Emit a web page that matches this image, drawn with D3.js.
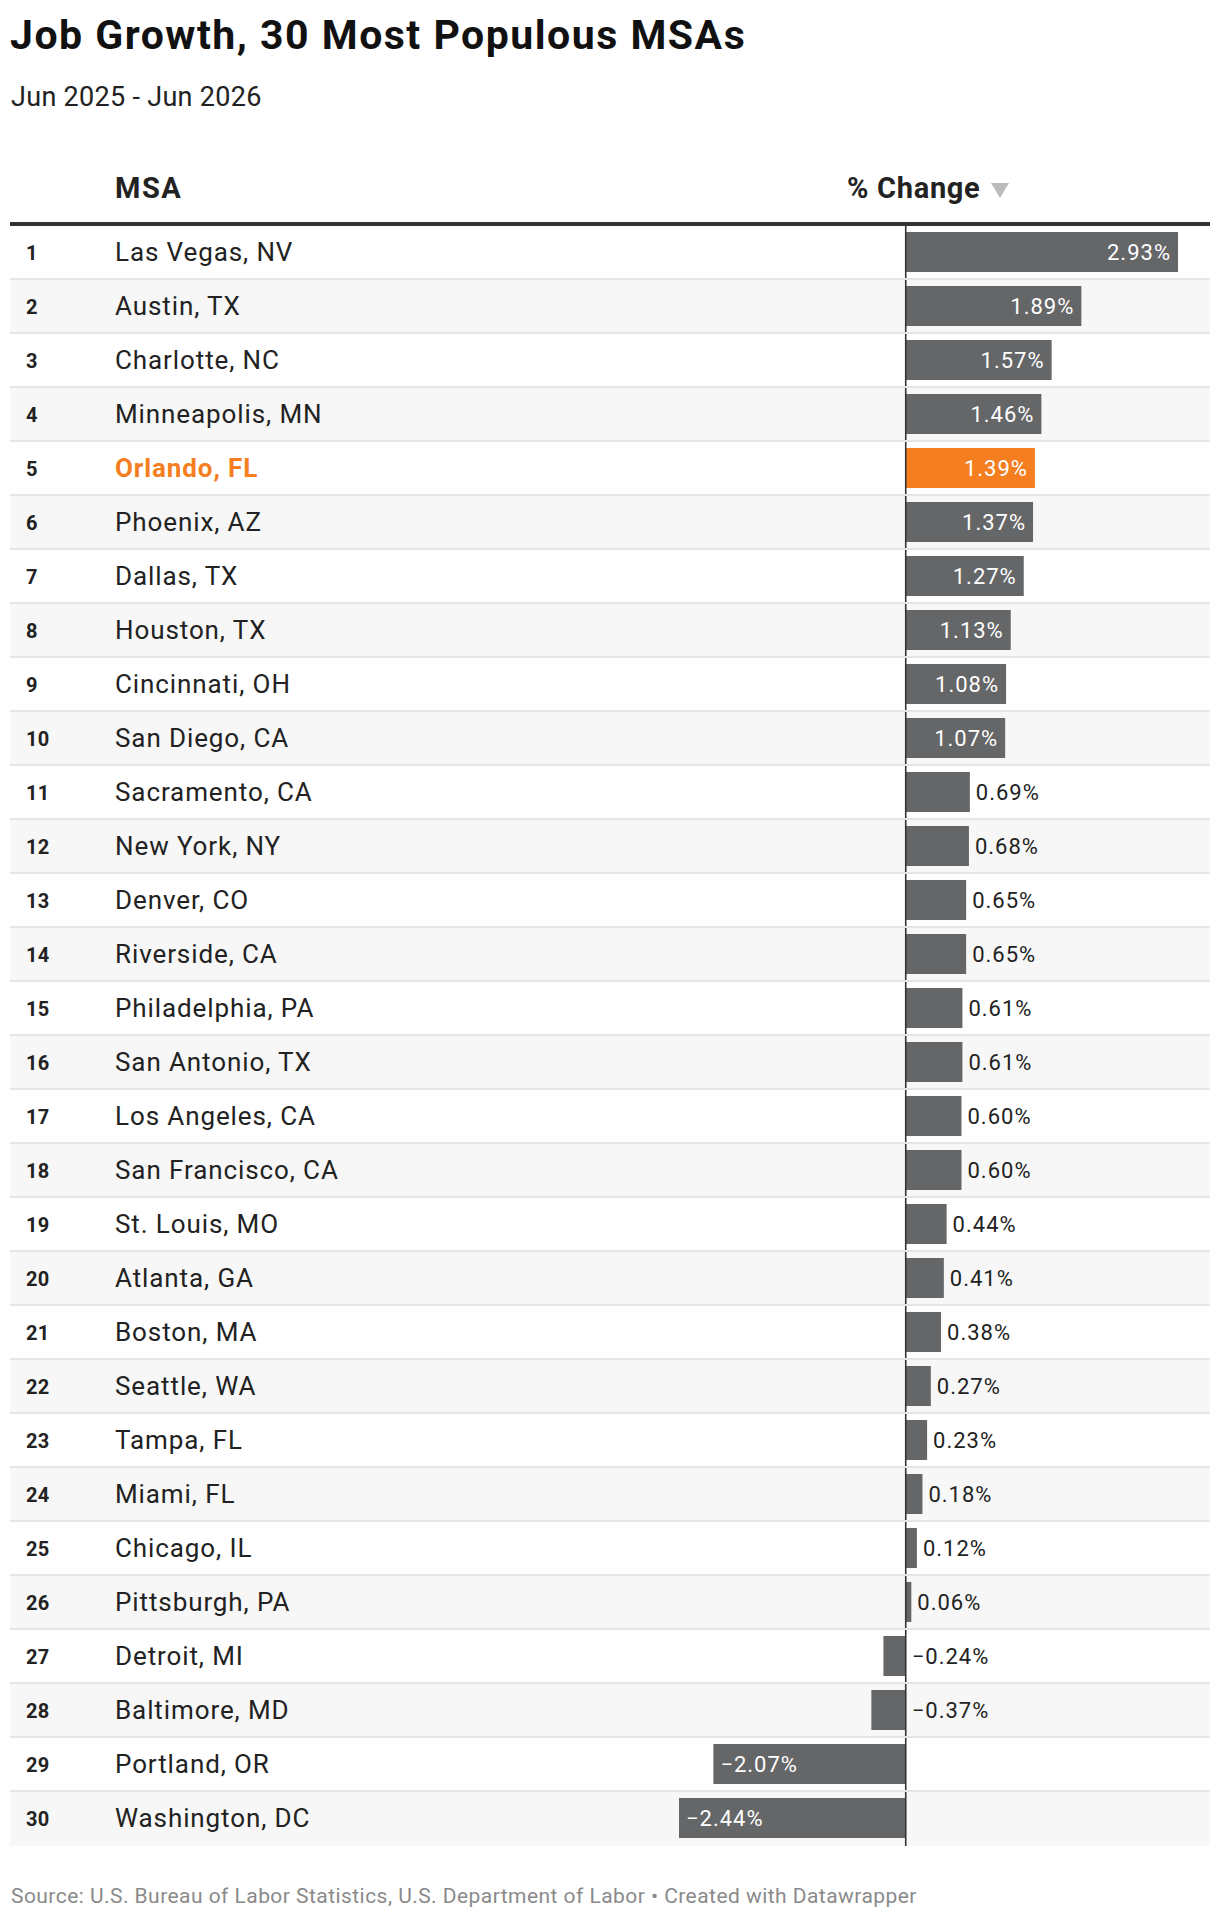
<!DOCTYPE html>
<html>
<head>
<meta charset="utf-8">
<script src="https://cdn.jsdelivr.net/npm/d3@7"></script>
<style>
  body { margin: 0; background: #fff; }
  svg text { font-family: Roboto, "Noto Sans", sans-serif; }
</style>
</head>
<body>
<div id="chart"></div>
<script>
// rank, metro and the June-to-June change (%)
const ranks = d3.range(1, 31);
const msas = [
    "Las Vegas, NV", "Austin, TX", "Charlotte, NC", "Minneapolis, MN", "Orlando, FL",
    "Phoenix, AZ", "Dallas, TX", "Houston, TX", "Cincinnati, OH", "San Diego, CA",
    "Sacramento, CA", "New York, NY", "Denver, CO", "Riverside, CA", "Philadelphia, PA",
    "San Antonio, TX", "Los Angeles, CA", "San Francisco, CA", "St. Louis, MO", "Atlanta, GA",
    "Boston, MA", "Seattle, WA", "Tampa, FL", "Miami, FL", "Chicago, IL",
    "Pittsburgh, PA", "Detroit, MI", "Baltimore, MD", "Portland, OR", "Washington, DC"
];
const changes = [
    2.93, 1.89, 1.57, 1.46, 1.39,
    1.37, 1.27, 1.13, 1.08, 1.07,
    0.69, 0.68, 0.65, 0.65, 0.61,
    0.61, 0.60, 0.60, 0.44, 0.41,
    0.38, 0.27, 0.23, 0.18, 0.12,
    0.06, -0.24, -0.37, -2.07, -2.44
];
const highlight = "Orlando, FL";

const rows = msas.map((m, i) => ({ rank: ranks[i], msa: m, value: changes[i] }));

const width = 1220, height = 1920;
const tableLeft = 10, tableRight = 1210;
const bodyTop = 226, rowH = 54;

const svg = d3.select("#chart").append("svg")
    .attr("width", width)
    .attr("height", height);

// title block
svg.append("text")
    .attr("x", 10).attr("y", 49)
    .attr("font-size", 41).attr("font-weight", 700).attr("fill", "#111")
    .attr("letter-spacing", 1.5)
    .text("Job Growth, 30 Most Populous MSAs");

svg.append("text")
    .attr("x", 11).attr("y", 106)
    .attr("font-size", 27).attr("fill", "#222")
    .attr("letter-spacing", 0.3)
    .text("Jun 2025 - Jun 2026");

// header
svg.append("text")
    .attr("x", 115).attr("y", 198)
    .attr("font-size", 29).attr("font-weight", 700).attr("fill", "#222")
    .attr("letter-spacing", 1.5)
    .text("MSA");

svg.append("text")
    .attr("x", 847).attr("y", 198)
    .attr("font-size", 29).attr("font-weight", 700).attr("fill", "#222")
    .attr("letter-spacing", 0.7)
    .text("% Change");

svg.append("path")
    .attr("d", "M991,183 L1009,183 L1000,198 Z")
    .attr("fill", "#bbbbbb");

svg.append("rect")
    .attr("x", tableLeft).attr("y", 222)
    .attr("width", tableRight - tableLeft).attr("height", 4)
    .attr("fill", "#333");

// scales
const y = d3.scaleBand()
    .domain(msas)
    .range([bodyTop, bodyTop + rowH * msas.length])
    .padding(0);

const x = d3.scaleLinear()
    .domain([d3.min(changes), d3.max(changes)])
    .range([679, 1178]);

// row backgrounds
const rowG = svg.append("g");
rowG.selectAll("rect.bg")
    .data(rows)
    .enter()
    .append("rect")
    .attr("class", "bg")
    .attr("x", tableLeft)
    .attr("y", d => y(d.msa))
    .attr("width", tableRight - tableLeft)
    .attr("height", rowH)
    .attr("fill", (d, i) => i % 2 ? "#f7f7f7" : "#ffffff");

// bars
const barG = svg.append("g");
barG.selectAll("rect.bar")
    .data(rows)
    .enter()
    .append("rect")
    .attr("class", "bar")
    .attr("x", d => x(Math.min(0, d.value)))
    .attr("y", d => y(d.msa) + 6)
    .attr("width", d => Math.abs(x(d.value) - x(0)))
    .attr("height", 40)
    .attr("fill", d => d.msa === highlight ? "#f47e20" : "#656667");

// zero line
svg.append("line")
    .attr("x1", x(0)).attr("x2", x(0))
    .attr("y1", bodyTop).attr("y2", bodyTop + rowH * msas.length)
    .attr("stroke", "#333").attr("stroke-width", 1.6);

// separators on top of zero line
svg.append("g").selectAll("rect.sep")
    .data(rows.slice(0, rows.length - 1))
    .enter()
    .append("rect")
    .attr("x", tableLeft)
    .attr("y", d => y(d.msa) + rowH - 2)
    .attr("width", tableRight - tableLeft)
    .attr("height", 2)
    .attr("fill", "#e6e6e6");

// rank and name
const textG = svg.append("g");
textG.selectAll("text.rank")
    .data(rows)
    .enter()
    .append("text")
    .attr("class", "rank")
    .attr("x", 26)
    .attr("y", d => y(d.msa) + 34)
    .attr("font-size", 20).attr("font-weight", 700).attr("fill", "#222")
    .attr("letter-spacing", 0.3)
    .text(d => d.rank);

textG.selectAll("text.name")
    .data(rows)
    .enter()
    .append("text")
    .attr("class", "name")
    .attr("x", 115)
    .attr("y", d => y(d.msa) + 35)
    .attr("font-size", 26)
    .attr("letter-spacing", 0.9)
    .attr("font-weight", d => d.msa === highlight ? 700 : 400)
    .attr("fill", d => d.msa === highlight ? "#f47e20" : "#222")
    .text(d => d.msa);

// value labels: inside the bar when there is room, else just right of zero
const fmt = v => (v < 0 ? "\u2212" : "") + Math.abs(v).toFixed(2) + "%";
const pad = 7;
textG.selectAll("text.val")
    .data(rows)
    .enter()
    .append("text")
    .attr("class", "val")
    .attr("y", d => y(d.msa) + 34)
    .attr("font-size", 22)
    .attr("letter-spacing", 1)
    .text(d => fmt(d.value))
    .each(function (d) {
        const w = this.getComputedTextLength();
        const barW = Math.abs(x(d.value) - x(0));
        const sel = d3.select(this);
        if (w + pad * 2 <= barW) {
            sel.attr("fill", "#fff");
            if (d.value >= 0) {
                sel.attr("x", x(d.value) - pad).attr("text-anchor", "end");
            } else {
                sel.attr("x", x(d.value) + pad).attr("text-anchor", "start");
            }
        } else {
            sel.attr("fill", "#222")
                .attr("x", Math.max(x(d.value), x(0)) + 6)
                .attr("text-anchor", "start");
        }
    });

// source line
svg.append("text")
    .attr("x", 11).attr("y", 1903)
    .attr("font-size", 21).attr("fill", "#8a8a8a")
    .attr("letter-spacing", 0.45)
    .text("Source: U.S. Bureau of Labor Statistics, U.S. Department of Labor \u2022 Created with Datawrapper");
</script>
</body>
</html>
